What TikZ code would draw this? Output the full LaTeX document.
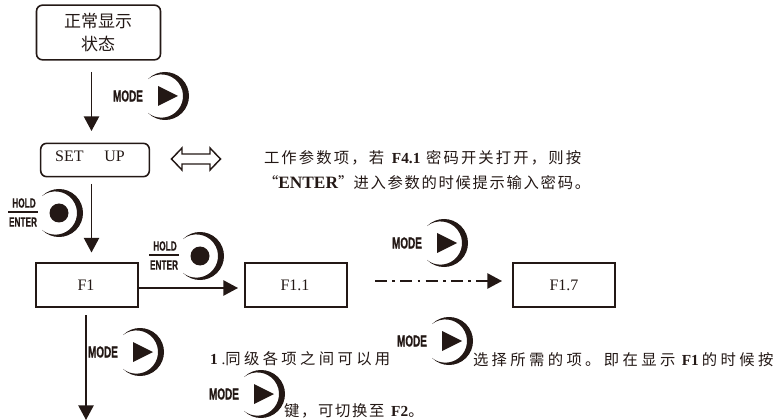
\documentclass[tikz,border=0pt]{standalone}
\usepackage{fontspec}
\usetikzlibrary{arrows.meta}
\setmainfont{Liberation Serif}
\newfontfamily\cjkA{Noto Sans CJK SC}[Scale=1]
\newfontfamily\cjkB{Noto Sans CJK SC}[LetterSpace=11]
\newfontfamily\cjkD{Noto Sans CJK SC}[LetterSpace=14]
\newfontfamily\cjkC{Noto Sans CJK SC}[LetterSpace=22]
\newfontfamily\keyfont{Liberation Sans Bold}[FakeStretch=0.62,FakeBold=0.6]
\definecolor{inkc}{HTML}{231815}
\tikzset{
  x=0.75pt,y=-0.75pt,
  every node/.style={inner sep=0pt,outer sep=0pt,text=inkc},
  flowline/.style={draw=inkc,line width=1.1pt},
  flowarrow/.style={flowline,-{Triangle[width=11.5pt,length=11pt]}},
  flowbox/.style={draw=inkc,line width=1.2pt,minimum width=76.5pt,minimum height=33pt},
  roundbox/.style={flowbox,rounded corners=4.5pt},
  keylabel/.style={font=\keyfont\fontsize{12}{12}\selectfont},
  keylabelsmall/.style={font=\keyfont\fontsize{10}{10}\selectfont},
  boxtext/.style={font=\fontsize{12}{13}\selectfont},
  boxcjk/.style={font=\cjkA\fontsize{12.75}{14}\selectfont},
  note/.style={anchor=west,font=\fontsize{11.5}{13}\selectfont},
  crescent/.pic={
    \fill[inkc] (135:24) arc[start angle=135,end angle=-135,radius=24]
      arc[start angle=-128.2,end angle=128.2,radius=21.63] -- cycle;
  },
  modekey/.pic={
    \pic {crescent};
    \fill[inkc] (-7,-10) -- (13,0) -- (-7,10) -- cycle;
    \node[keylabel] (-mode) at (-37,0) {MODE};
  },
  holdkey/.pic={
    \pic {crescent};
    \fill[inkc] (0,0) circle[radius=9.5];
    \node[keylabelsmall] (-hold) at (-35,-10) {HOLD};
    \node[keylabelsmall] (-enter) at (-36,9) {ENTER};
    \draw[inkc,line width=0.8pt] (-51,-1) -- (-21,-1);
  },
}
\begin{document}
\begin{tikzpicture}
\useasboundingbox (0,0) rectangle (781,420);
% boxes
\node[roundbox,minimum width=93pt,minimum height=41pt] (normal) at (98.5,32.5) {};
\node[boxcjk] (normalA) at (98,21) {正常显示};
\node[boxcjk] (normalB) at (98,44) {状态};
\node[roundbox,minimum width=81.5pt,minimum height=25pt] (setup) at (95,160) {};
\node[boxtext] (setuptext) at (90,156) {SET\hspace{1.3em}UP};
\node[flowbox] (f1) at (87,285) {};
\node[boxtext] (f1text) at (86,285) {F1};
\node[flowbox] (f11) at (296,285) {};
\node[boxtext] (f11text) at (295,285) {F1.1};
\node[flowbox] (f17) at (564,285) {};
\node[boxtext] (f17text) at (564,285) {F1.7};
% connector end points
\coordinate (a1s) at (91.5,72);
\coordinate (a1e) at (91.5,131);
\coordinate (a2s) at (91.5,184);
\coordinate (a2e) at (91.5,252.5);
\coordinate (a3e) at (238,288);
\coordinate (a4s) at (375,281);
\coordinate (a4e) at (502,281);
\coordinate (a5s) at (86,315);
\coordinate (a5e) at (86,420);
% connectors
\draw[flowarrow] (a1s) -- (a1e);
\draw[flowarrow] (a2s) -- (a2e);
\draw[flowarrow] ([yshift=-2.25pt]f1.east) -- (a3e);
\draw[flowline,dash pattern=on 9pt off 4pt on 2pt off 4pt,-{Triangle[width=11.5pt,length=11pt]}] (a4s) -- (a4e);
\draw[flowarrow] (a5s) -- (a5e);
% double arrow
\draw[inkc,line width=1.1pt,fill=white,line join=miter]
  (171.5,159) -- (182,148) -- (182,154) -- (210,154) -- (210,148) -- (220.5,159)
  -- (210,170) -- (210,164) -- (182,164) -- (182,170) -- cycle;
% keys
\pic (k1) at (165,96) {modekey};
\pic (k2) at (59,213) {holdkey};
\pic (k3) at (200,256) {holdkey};
\pic (k4) at (444,243) {modekey};
\pic (k5) at (140,352) {modekey};
\pic (k6) at (449,341) {modekey};
\pic (k7) at (261,394) {modekey};
% notes
\node[note] (n1) at (264,158) {\cjkD 工作参数项，若 \textbf{\rmfamily F4.1} 密码开关打开，则按};
\node[note] (n2) at (263,183) {{\cjkA “}\textbf{\rmfamily\fontsize{13}{13}\selectfont ENTER}{\cjkA ”}\cjkB 进入参数的时候提示输入密码。};
\node[note] (n3) at (210,359) {\textbf{\rmfamily 1} \rmfamily .\cjkC 同级各项之间可以用};
\node[note] (n4) at (473,360) {\cjkC 选择所需的项。即在显示\hspace{0.2em}\textbf{\rmfamily F1}\hspace{0.2em}的时候按};
\node[note] (n5) at (284,411) {\cjkB 键，可切换至 \textbf{\rmfamily F2}。};
\end{tikzpicture}
\end{document}
